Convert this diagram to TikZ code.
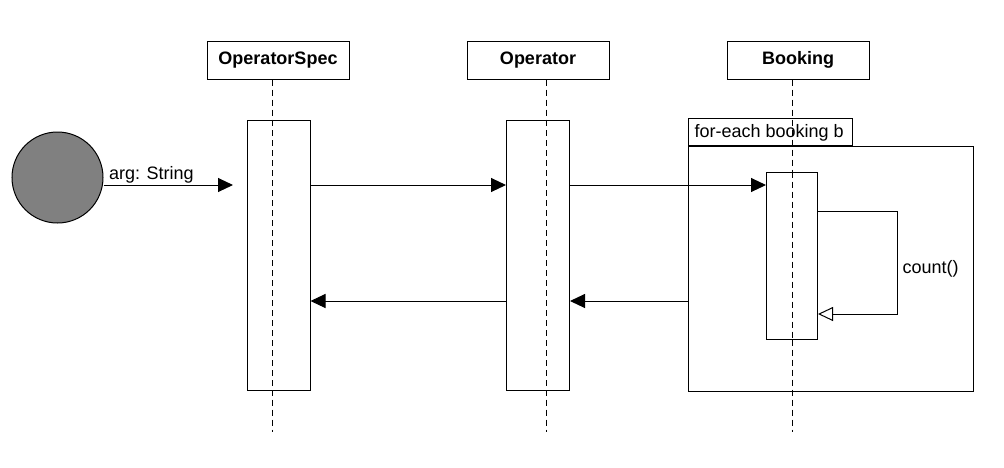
\documentclass[tikz,border=0pt]{standalone}
\usepackage{fontspec}
\setmainfont{Liberation Sans}
\definecolor{actorgray}{RGB}{128, 128, 128}
\usetikzlibrary{arrows.meta}
\tikzstyle{head} = [rectangle, draw, minimum width=142pt, minimum height=38pt,
    inner sep=0pt, font=\fontsize{18}{20}\selectfont\bfseries]
\tikzstyle{bar} = [rectangle, draw, fill=white, minimum width=63pt,
    minimum height=270pt, inner sep=0pt]
\tikzstyle{life} = [draw, dash pattern=on 6pt off 4pt]
\tikzstyle{line} = [draw, -{Triangle[length=15pt, width=14pt]}]
\tikzstyle{selfline} = [draw, -{Triangle[open, length=15pt, width=14pt]}]

\begin{document}
\begin{tikzpicture}[x=1pt, y=-1pt, line width=1pt, font=\fontsize{18}{20}\selectfont]
  \useasboundingbox (0,0) rectangle (1004,467);
  % heads and lifelines
  \node [head] (spec_head) at (278,60) {OperatorSpec};
  \node [head] (op_head) at (538,60) {Operator};
  \node [head] (booking_head) at (798,60) {Booking};
  \coordinate (spec_end) at (272,432);
  \coordinate (op_end) at (546,432);
  \coordinate (booking_end) at (792,432);
  \path [life] (spec_head.south -| spec_end) -- (spec_end);
  \path [life] (op_head.south -| op_end) -- (op_end);
  % loop frame
  \node [rectangle, draw, minimum width=285pt, minimum height=245pt, inner sep=0pt] (loop_frame) at (831,268.5) {};
  \node [rectangle, draw, minimum width=164pt, minimum height=27pt, inner sep=0pt, anchor=south west] (loop_tab) at (loop_frame.north west) {};
  \node [anchor=west, inner sep=0pt] (loop_label) at ([xshift=6pt, yshift=-1pt]loop_tab.west) {for-each booking b};
  \path [life] (booking_head.south -| booking_end) -- (booking_end);
  % activations
  \node [bar] (spec_bar) at (278.5,255.5) {};
  \node [bar] (op_bar) at (538,255.5) {};
  \node [bar, minimum width=51pt, minimum height=167pt] (booking_bar) at (792,255.5) {};
  \path [life] (spec_bar.north -| spec_end) -- (spec_bar.south -| spec_end);
  \path [life] (op_bar.north -| op_end) -- (op_bar.south -| op_end);
  \path [life] (booking_bar.north -| booking_end) -- (booking_end |- booking_bar.south);
  % actor
  \node [circle, draw, fill=actorgray, minimum size=91pt, inner sep=0pt] (caller) at (57.5,177.5) {};
  \coordinate (call_y) at (0,185);
  \coordinate (reply_y) at (0,301);
  \coordinate (spec_in) at (233,185);
  \path [line] (caller.east |- call_y) -- node [above, pos=0.37, inner sep=1pt] (arg_label) {arg: String} (spec_in);
  \path [line] (spec_bar.east |- call_y) -- (op_bar.west |- call_y);
  \path [line] (op_bar.east |- call_y) -- (booking_bar.west |- call_y);
  \path [line] (op_bar.west |- reply_y) -- (spec_bar.east |- reply_y);
  \path [line] (loop_frame.west |- reply_y) -- (op_bar.east |- reply_y);
  % self call
  \coordinate (self_top) at (897,211);
  \coordinate (self_bot) at (897,314);
  \path [selfline] (booking_bar.east |- self_top) -- (self_top) -- node [right, pos=0.56, inner sep=5pt] (count_label) {count()} (self_bot) -- (booking_bar.east |- self_bot);
\end{tikzpicture}
\end{document}
